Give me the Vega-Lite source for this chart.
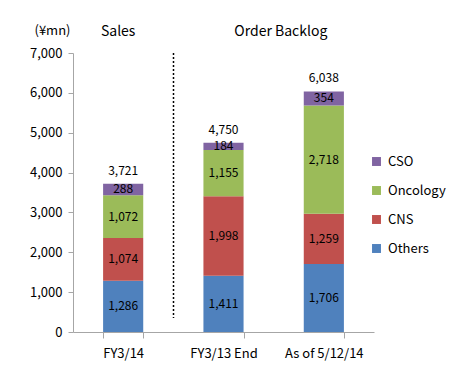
{
  "$schema": "https://vega.github.io/schema/vega-lite/v6.json",
  "autosize": "none",
  "width": 301,
  "height": 279,
  "padding": {"left": 73, "top": 53, "right": 91, "bottom": 35},
  "background": "white",
  "config": {
    "view": {"stroke": null},
    "font": "Noto Sans CJK JP",
    "text": {"font": "Noto Sans CJK JP"}
  },
  "datasets": {
    "segs": [
      {"cat": "FY3/14", "seg": "Others", "v": 1286, "ord": 1},
      {"cat": "FY3/14", "seg": "CNS", "v": 1074, "ord": 2},
      {"cat": "FY3/14", "seg": "Oncology", "v": 1072, "ord": 3},
      {"cat": "FY3/14", "seg": "CSO", "v": 288, "ord": 4},
      {"cat": "FY3/13 End", "seg": "Others", "v": 1411, "ord": 1},
      {"cat": "FY3/13 End", "seg": "CNS", "v": 1998, "ord": 2},
      {"cat": "FY3/13 End", "seg": "Oncology", "v": 1155, "ord": 3},
      {"cat": "FY3/13 End", "seg": "CSO", "v": 184, "ord": 4},
      {"cat": "As of 5/12/14", "seg": "Others", "v": 1706, "ord": 1},
      {"cat": "As of 5/12/14", "seg": "CNS", "v": 1259, "ord": 2},
      {"cat": "As of 5/12/14", "seg": "Oncology", "v": 2718, "ord": 3},
      {"cat": "As of 5/12/14", "seg": "CSO", "v": 354, "ord": 4}
    ],
    "totals": [
      {"cat": "FY3/14", "total": 3721},
      {"cat": "FY3/13 End", "total": 4750},
      {"cat": "As of 5/12/14", "total": 6038}
    ]
  },
  "layer": [
    {
      "data": {"name": "segs"},
      "mark": {"type": "bar"},
      "encoding": {
        "x": {
          "field": "cat", "type": "nominal", "sort": null,
          "scale": {"paddingInner": 0.6, "paddingOuter": 0.3},
          "axis": {
            "title": null, "labelAngle": 0, "labelFontSize": 13, "labelColor": "black",
            "labelPadding": 9, "tickBand": "extent", "domainColor": "#A6A6A6",
            "tickColor": "#A6A6A6", "tickSize": 6, "labelFont": "Noto Sans CJK JP"
          }
        },
        "y": {
          "field": "v", "type": "quantitative", "stack": "zero",
          "scale": {"domain": [0, 7000], "nice": false},
          "axis": {
            "title": "(¥mn)", "titleAngle": 0, "titleAlign": "center", "titleBaseline": "middle",
            "titleX": -21, "titleY": -23, "titleFontSize": 13, "titleFontWeight": "normal",
            "titleColor": "black", "titleFont": "Noto Sans CJK JP",
            "values": [0, 1000, 2000, 3000, 4000, 5000, 6000, 7000],
            "format": ",.0f", "labelOverlap": false, "grid": false, "labelFontSize": 13, "labelColor": "black",
            "labelFont": "Noto Sans CJK JP",
            "domainColor": "#A6A6A6", "tickColor": "#A6A6A6", "tickSize": 5, "labelPadding": 6
          }
        },
        "color": {
          "field": "seg", "type": "nominal",
          "scale": {
            "domain": ["CSO", "Oncology", "CNS", "Others"],
            "range": ["#8064A2", "#9BBB59", "#C0504D", "#4F81BD"]
          },
          "legend": {
            "title": null, "orient": "none", "legendX": 297, "legendY": 102,
            "symbolType": "square", "symbolSize": 80, "symbolStrokeWidth": 0,
            "labelFontSize": 13, "labelColor": "black", "labelFont": "Noto Sans CJK JP",
            "rowPadding": 15, "labelOffset": 5
          }
        },
        "order": {"field": "ord", "type": "quantitative"}
      }
    },
    {
      "data": {"name": "segs"},
      "mark": {"type": "text", "fontSize": 12, "color": "black"},
      "encoding": {
        "x": {"field": "cat", "type": "nominal", "sort": null},
        "y": {
          "field": "v", "type": "quantitative", "stack": "zero", "bandPosition": 0.5,
          "axis": {
            "title": "(¥mn)", "titleAngle": 0, "titleAlign": "center", "titleBaseline": "middle",
            "titleX": -21, "titleY": -23, "titleFontSize": 13, "titleFontWeight": "normal",
            "titleColor": "black", "titleFont": "Noto Sans CJK JP",
            "values": [0, 1000, 2000, 3000, 4000, 5000, 6000, 7000],
            "format": ",.0f", "labelOverlap": false, "grid": false, "labelFontSize": 13, "labelColor": "black",
            "labelFont": "Noto Sans CJK JP",
            "domainColor": "#A6A6A6", "tickColor": "#A6A6A6", "tickSize": 5, "labelPadding": 6
          }
        },
        "text": {"field": "v", "type": "quantitative", "format": ","},
        "order": {"field": "ord", "type": "quantitative"}
      }
    },
    {
      "data": {"name": "totals"},
      "mark": {"type": "text", "fontSize": 12, "color": "black", "baseline": "middle", "dy": -13},
      "encoding": {
        "x": {"field": "cat", "type": "nominal", "sort": null},
        "y": {
          "field": "total", "type": "quantitative",
          "axis": {
            "title": "(¥mn)", "titleAngle": 0, "titleAlign": "center", "titleBaseline": "middle",
            "titleX": -21, "titleY": -23, "titleFontSize": 13, "titleFontWeight": "normal",
            "titleColor": "black", "titleFont": "Noto Sans CJK JP",
            "values": [0, 1000, 2000, 3000, 4000, 5000, 6000, 7000],
            "format": ",.0f", "labelOverlap": false, "grid": false, "labelFontSize": 13, "labelColor": "black",
            "labelFont": "Noto Sans CJK JP",
            "domainColor": "#A6A6A6", "tickColor": "#A6A6A6", "tickSize": 5, "labelPadding": 6
          }
        },
        "text": {"field": "total", "type": "quantitative", "format": ","}
      }
    },
    {
      "data": {"values": [{"cat": "FY3/13 End", "top": 7000, "bottom": 350}]},
      "mark": {"type": "rule", "xOffset": -50, "strokeDash": [2, 2], "strokeWidth": 1.5, "color": "black"},
      "encoding": {
        "x": {"field": "cat", "type": "nominal", "sort": null},
        "y": {
          "field": "top", "type": "quantitative",
          "axis": {
            "title": "(¥mn)", "titleAngle": 0, "titleAlign": "center", "titleBaseline": "middle",
            "titleX": -21, "titleY": -23, "titleFontSize": 13, "titleFontWeight": "normal",
            "titleColor": "black", "titleFont": "Noto Sans CJK JP",
            "values": [0, 1000, 2000, 3000, 4000, 5000, 6000, 7000],
            "format": ",.0f", "labelOverlap": false, "grid": false, "labelFontSize": 13, "labelColor": "black",
            "labelFont": "Noto Sans CJK JP",
            "domainColor": "#A6A6A6", "tickColor": "#A6A6A6", "tickSize": 5, "labelPadding": 6
          }
        },
        "y2": {"field": "bottom"}
      }
    },
    {
      "data": {"values": [{"cat": "FY3/14", "label": "Sales"}]},
      "mark": {"type": "text", "fontSize": 14, "color": "black", "dx": -5, "dy": -21, "baseline": "middle"},
      "encoding": {
        "x": {"field": "cat", "type": "nominal", "sort": null},
        "y": {
          "datum": 7000, "type": "quantitative",
          "axis": {
            "title": "(¥mn)", "titleAngle": 0, "titleAlign": "center", "titleBaseline": "middle",
            "titleX": -21, "titleY": -23, "titleFontSize": 13, "titleFontWeight": "normal",
            "titleColor": "black", "titleFont": "Noto Sans CJK JP",
            "values": [0, 1000, 2000, 3000, 4000, 5000, 6000, 7000],
            "format": ",.0f", "labelOverlap": false, "grid": false, "labelFontSize": 13, "labelColor": "black",
            "labelFont": "Noto Sans CJK JP",
            "domainColor": "#A6A6A6", "tickColor": "#A6A6A6", "tickSize": 5, "labelPadding": 6
          }
        },
        "text": {"field": "label"}
      }
    },
    {
      "data": {"values": [{"cat": "As of 5/12/14", "label": "Order Backlog"}]},
      "mark": {"type": "text", "fontSize": 14, "color": "black", "xOffset": -43, "dy": -21, "baseline": "middle"},
      "encoding": {
        "x": {"field": "cat", "type": "nominal", "sort": null},
        "y": {
          "datum": 7000, "type": "quantitative",
          "axis": {
            "title": "(¥mn)", "titleAngle": 0, "titleAlign": "center", "titleBaseline": "middle",
            "titleX": -21, "titleY": -23, "titleFontSize": 13, "titleFontWeight": "normal",
            "titleColor": "black", "titleFont": "Noto Sans CJK JP",
            "values": [0, 1000, 2000, 3000, 4000, 5000, 6000, 7000],
            "format": ",.0f", "labelOverlap": false, "grid": false, "labelFontSize": 13, "labelColor": "black",
            "labelFont": "Noto Sans CJK JP",
            "domainColor": "#A6A6A6", "tickColor": "#A6A6A6", "tickSize": 5, "labelPadding": 6
          }
        },
        "text": {"field": "label"}
      }
    }
  ]
}
